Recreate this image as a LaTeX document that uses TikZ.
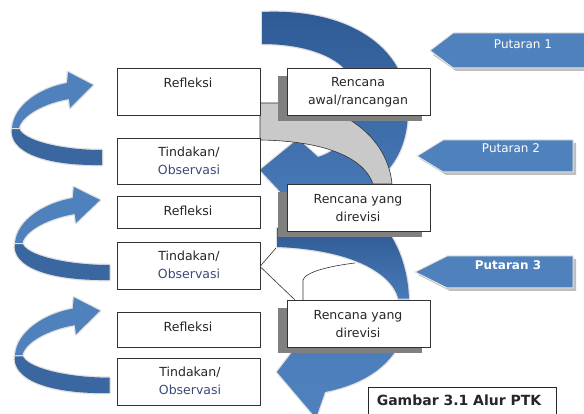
\documentclass[tikz,border=0pt]{standalone}
\usepackage{fontspec}
\setmainfont{DejaVu Sans}
\definecolor{blueA}{HTML}{4F81BD}
\definecolor{blueB}{HTML}{3A679F}
\definecolor{arcD}{HTML}{2E5A94}
\definecolor{arcL}{HTML}{4A7CBA}
\definecolor{bandgray}{HTML}{C9C9C9}
\definecolor{shadowgray}{HTML}{808080}
\definecolor{obs}{HTML}{3B4A7A}
\begin{document}
\begin{tikzpicture}[x=1pt,y=-1pt,
  box/.style={draw=black!80, line width=0.7pt, fill=white, minimum width=143pt, inner sep=0pt, outer sep=0pt},
  shadowbox/.style={fill=shadowgray, minimum width=144pt, inner sep=0pt, outer sep=0pt},
  txt/.style={font=\fontsize{12.5}{18}\selectfont, text=black!85, align=center, inner sep=0pt},
  puttxt/.style={font=\fontsize{12}{14}\selectfont, text=white, inner sep=0pt},
  glow/.style={draw=black!12, line width=2.5pt, line join=round},
  cyc/.pic={
    \fill[glow, fill=blueB] (90,22) -- (90,37) .. controls (33,38) and (-4,24) .. (0,0) -- (7,0) .. controls (10,12) and (48,22) .. (90,22) -- cycle;
    \fill[fill=blueB] (90,22) -- (90,37) .. controls (33,38) and (-4,24) .. (0,0) -- (7,0) .. controls (10,12) and (48,22) .. (90,22) -- cycle;
    \fill[glow, fill=blueA] (0,0) .. controls (2,-23) and (28,-40) .. (55,-45) -- (56,-56) -- (81,-43) -- (58,-20) -- (57,-29) .. controls (33,-25) and (10,-13) .. (7,0) -- cycle;
    \fill[fill=blueA] (0,0) .. controls (2,-23) and (28,-40) .. (55,-45) -- (56,-56) -- (81,-43) -- (58,-20) -- (57,-29) .. controls (33,-25) and (10,-13) .. (7,0) -- cycle;
  }]
\useasboundingbox (0,0) rectangle (584,414);
\fill[white] (0,0) rectangle (584,414);

% Putaran arrows
\fill[black!25] (433,55) -- (456,36) -- (590,36) -- (590,71) -- (456,71) -- cycle;
\fill[blueA, draw=black!10, line width=1pt] (430,50.5) -- (453,33) -- (590,33) -- (590,68) -- (453,68) -- cycle;
\fill[black!25] (420,159) -- (446,143) -- (576,143) -- (576,175) -- (446,175) -- cycle;
\fill[blueA, draw=black!10, line width=1pt] (417,156) -- (443,140) -- (573,140) -- (573,172) -- (443,172) -- cycle;
\fill[black!25] (418,275) -- (450,259) -- (576,259) -- (576,291) -- (450,291) -- cycle;
\fill[blueA, draw=black!10, line width=1pt] (415,272) -- (447,256) -- (573,256) -- (573,288) -- (447,288) -- cycle;
\node[puttxt] (p1) at (523,44) {Putaran 1};
\node[puttxt] (p2) at (511,148) {Putaran 2};
\node[puttxt, font=\fontsize{12}{14}\selectfont\bfseries] (p3) at (508,265) {Putaran 3};

% left cycle arrows
\pic at (12,128) {cyc};
\pic[xscale=1.05] at (15,243) {cyc};
\pic[xscale=1.05,yscale=1.03] at (15,355) {cyc};

% central arcs
\path[glow] (262,12) .. controls (345,8) and (408,45) .. (408,110) .. controls (408,160) and (380,195) .. (315,202) -- (302,215) -- (260,170) -- (298,139) -- (318,157) .. controls (342,150) and (357,128) .. (356,95) .. controls (355,60) and (310,44) .. (262,44) -- cycle;
\shade[top color=arcD, bottom color=arcL] (262,12) .. controls (345,8) and (408,45) .. (408,110) .. controls (408,160) and (380,195) .. (315,202) -- (302,215) -- (260,170) -- (298,139) -- (318,157) .. controls (342,150) and (357,128) .. (356,95) .. controls (355,60) and (310,44) .. (262,44) -- cycle;
% second arc, upper part
\path[glow] (277,228) -- (385,228) .. controls (400,245) and (409,275) .. (409,302) -- (399,302) .. controls (396,278) and (360,250) .. (277,247) -- cycle;
\shade[top color=arcD, bottom color=arcL] (277,228) -- (385,228) .. controls (400,245) and (409,275) .. (409,302) -- (399,302) .. controls (396,278) and (360,250) .. (277,247) -- cycle;
% second arc, lower part
\path[glow] (409,300) .. controls (410,345) and (385,380) .. (325,392) -- (316,418) -- (277,372) -- (300,342) -- (320,345) .. controls (360,342) and (395,330) .. (398,300) -- cycle;
\shade[top color=arcL, bottom color=blueA] (409,300) .. controls (410,345) and (385,380) .. (325,392) -- (316,418) -- (277,372) -- (300,342) -- (320,345) .. controls (360,342) and (395,330) .. (398,300) -- cycle;

% gray band from Refleksi 1 to Rencana yang direvisi
\filldraw[fill=bandgray, draw=black!80, line width=0.6pt] (260,103) -- (300,103) -- (330,110) .. controls (375,128) and (390,160) .. (392,184) -- (373,184) .. controls (365,160) and (330,141) .. (260,140) -- cycle;

% thin ribbon outline from Tindakan 2
\coordinate (r1) at (276,248);
\coordinate (r2) at (295,300);
\coordinate (r3) at (303,300);
\coordinate (r4) at (355,263);
\draw[black!80, line width=0.6pt] (r1) -- (260,266.5) -- (r2);
\draw[black!80, line width=0.6pt] (r3) -- (303,280) .. controls (305,272) and (330,266) .. (r4);

% shadows of plan boxes
\node[shadowbox, minimum height=45pt] (s1) at (350,98.5) {};
\node[shadowbox, minimum height=45pt] (s2) at (350,214.5) {};
\node[shadowbox, minimum height=45pt] (s3) at (350,330.5) {};

% boxes
\node[box, minimum height=47pt] (ref1) at (188.5,91.5) {};
\node[box, minimum height=46pt] (tin1) at (188.5,161) {};
\node[box, minimum height=47pt] (ren1) at (358.5,91.5) {};
\node[box, minimum height=32pt] (ref2) at (188.5,212) {};
\node[box, minimum height=47pt] (tin2) at (188.5,265.5) {};
\node[box, minimum height=47pt] (ren2) at (358.5,207.5) {};
\node[box, minimum height=35pt] (ref3) at (188.5,329.5) {};
\node[box, minimum height=47pt] (tin3) at (188.5,381.5) {};
\node[box, minimum height=47pt] (ren3) at (358.5,323.5) {};

% texts
\node[txt] (tref1) at (188,83) {Refleksi};
\node[txt] (ttin1) at (189,161) {Tindakan/\\\textcolor{obs}{Observasi}};
\node[txt] (tren1) at (358,92) {Rencana\\awal/rancangan};
\node[txt] (tref2) at (188,211) {Refleksi};
\node[txt] (ttin2) at (189,265) {Tindakan/\\\textcolor{obs}{Observasi}};
\node[txt] (tren2) at (358,208) {Rencana yang\\direvisi};
\node[txt] (tref3) at (188,327) {Refleksi};
\node[txt] (ttin3) at (190,381) {Tindakan/\\\textcolor{obs}{Observasi}};
\node[txt] (tren3) at (358,324) {Rencana yang\\direvisi};

% caption
\draw[black!85, line width=0.8pt] (368,420) |- (556,387) -- (556,420);
\node[font=\fontsize{14}{16}\selectfont\bfseries, text=black!85, inner sep=0pt] (cap) at (459,400) {Gambar 3.1 Alur PTK};
\end{tikzpicture}
\end{document}
